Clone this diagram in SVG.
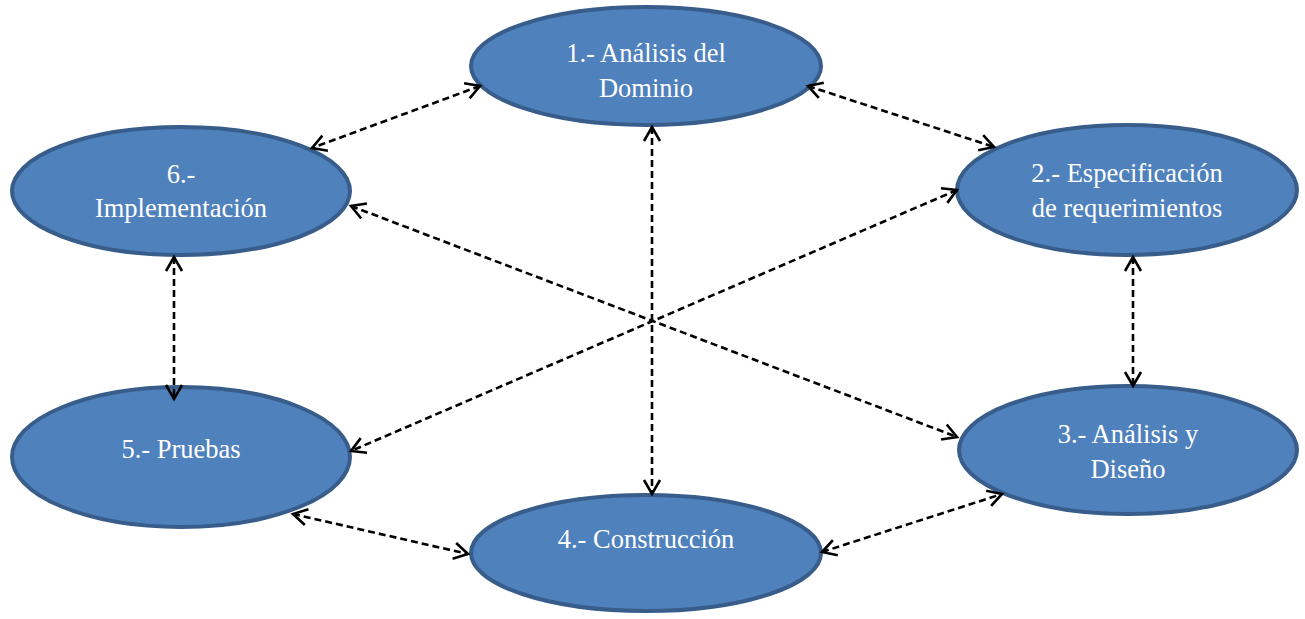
<svg xmlns="http://www.w3.org/2000/svg" width="1305" height="619" viewBox="0 0 1305 619">
<style>
.node ellipse{fill:#4f81bd;stroke:#385d8a;stroke-width:4}
.node text{fill:#ffffff;font-family:'Liberation Serif','Times New Roman',serif;font-size:26.5px;text-anchor:middle}
.conn line{stroke:#000;stroke-width:2.6;stroke-dasharray:7 4;fill:none;marker-start:url(#ah);marker-end:url(#ah)}
</style>
<defs>
<marker id="ah" markerUnits="userSpaceOnUse" markerWidth="34" markerHeight="34" viewBox="-17 -17 34 34" refX="0" refY="0" orient="auto-start-reverse">
<path d="M-14,-8 L0,0 L-14,8" fill="none" stroke="#000" stroke-width="2.6"/>
</marker>
</defs>
<rect width="1305" height="619" fill="#fff"/>
<g id="n1" class="node"><ellipse cx="646" cy="66" rx="175" ry="59"/><text x="646" y="62">1.- Análisis del</text><text x="646" y="97">Dominio</text></g>
<g id="n2" class="node"><ellipse cx="1127" cy="190" rx="170" ry="65"/><text x="1127" y="182">2.- Especificación</text><text x="1127" y="217">de requerimientos</text></g>
<g id="n3" class="node"><ellipse cx="1128" cy="450" rx="169" ry="64"/><text x="1128" y="443">3.- Análisis y</text><text x="1128" y="478">Diseño</text></g>
<g id="n4" class="node"><ellipse cx="646" cy="553" rx="175" ry="58"/><text x="646" y="548">4.- Construcción</text></g>
<g id="n5" class="node"><ellipse cx="181" cy="457" rx="169" ry="70"/><text x="181" y="458">5.- Pruebas</text></g>
<g id="n6" class="node"><ellipse cx="181" cy="191" rx="169" ry="64"/><text x="181" y="183">6.-</text><text x="181" y="217">Implementación</text></g>
<g id="connectors" class="conn">
<line x1="480" y1="86" x2="312" y2="148"/>
<line x1="808" y1="86" x2="994" y2="147"/>
<line x1="652" y1="127" x2="652" y2="494"/>
<line x1="351" y1="206" x2="957" y2="437"/>
<line x1="957" y1="190" x2="351" y2="451"/>
<line x1="174" y1="257" x2="174" y2="399"/>
<line x1="1133" y1="257" x2="1133" y2="386"/>
<line x1="293" y1="514" x2="468" y2="554"/>
<line x1="822" y1="552" x2="1002" y2="494"/>
</g>
</svg>
